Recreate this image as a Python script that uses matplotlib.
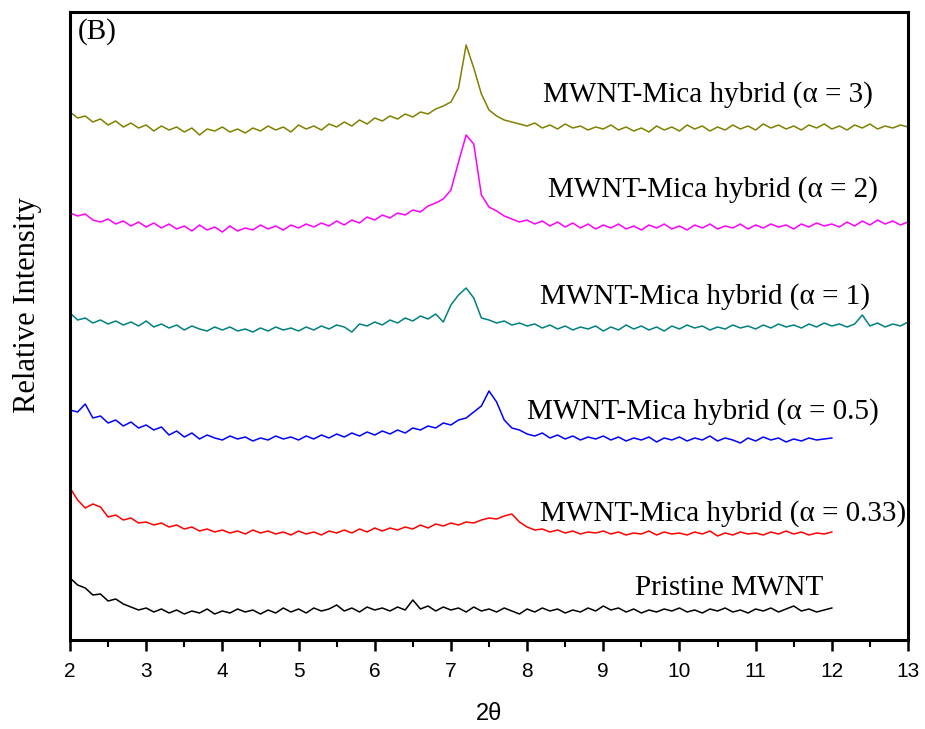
import numpy as np
import matplotlib
matplotlib.use("Agg")
import matplotlib.pyplot as plt
from matplotlib.ticker import MultipleLocator

# 2-theta grids
x_long = np.round(np.arange(2.0, 13.0001, 0.1), 2)   # 2..13
x_short = np.round(np.arange(2.0, 12.0001, 0.1), 2)  # 2..12

# Intensities (relative, stacked offsets as drawn)
alpha3 = [528, 522, 524, 518, 521, 515, 519, 513, 517, 512,
          515, 509, 514, 510, 513, 508, 512, 505, 511, 509,
          513, 508, 511, 507, 512, 509, 514, 510, 513, 508,
          515, 511, 514, 510, 516, 513, 518, 514, 520, 516,
          522, 519, 524, 521, 526, 523, 528, 526, 531, 534,
          538, 552, 595, 572, 546, 530, 524, 520, 518, 516,
          514, 517, 512, 515, 511, 516, 512, 514, 510, 513,
          511, 515, 510, 513, 509, 512, 508, 514, 510, 513,
          509, 515, 511, 514, 509, 513, 510, 515, 511, 514,
          510, 516, 512, 515, 511, 514, 510, 515, 512, 516,
          511, 514, 510, 515, 512, 516, 511, 514, 512, 515,
          513]
alpha2 = [427, 424, 426, 420, 418, 421, 416, 419, 414, 418,
          413, 417, 412, 416, 411, 414, 409, 415, 410, 413,
          408, 414, 409, 412, 410, 415, 411, 414, 410, 415,
          412, 416, 413, 417, 414, 419, 415, 420, 417, 423,
          420, 425, 422, 427, 425, 430, 428, 434, 437, 441,
          450, 478, 505, 496, 445, 433, 429, 424, 421, 418,
          420, 416, 419, 414, 418, 413, 417, 412, 416, 411,
          415, 412, 416, 411, 414, 410, 415, 412, 416, 411,
          414, 410, 415, 412, 416, 411, 414, 412, 416, 411,
          415, 412, 416, 413, 415, 411, 416, 413, 417, 414,
          416, 413, 418, 414, 419, 415, 420, 416, 419, 415,
          418]
alpha1 = [327, 320, 322, 317, 320, 316, 319, 315, 318, 314,
          319, 313, 316, 312, 315, 310, 314, 311, 309, 313,
          310, 313, 309, 311, 308, 312, 309, 313, 310, 312,
          309, 313, 310, 314, 311, 315, 313, 308, 316, 314,
          318, 315, 320, 317, 322, 319, 324, 321, 326, 318,
          335, 345, 352, 342, 322, 320, 317, 319, 315, 317,
          314, 316, 312, 315, 311, 314, 310, 313, 311, 314,
          309, 313, 310, 315, 311, 314, 310, 313, 309, 314,
          311, 315, 312, 314, 310, 313, 311, 315, 312, 314,
          311, 315, 312, 316, 313, 315, 312, 316, 313, 317,
          314, 316, 313, 316, 325, 314, 317, 313, 316, 314,
          318]
alpha05 = [230, 228, 236, 222, 224, 217, 220, 214, 218, 212,
           215, 210, 213, 205, 209, 203, 207, 201, 205, 202,
           200, 204, 201, 203, 199, 202, 200, 204, 201, 203,
           200, 204, 201, 205, 202, 206, 203, 207, 204, 208,
           205, 209, 206, 210, 207, 212, 210, 214, 212, 217,
           215, 220, 222, 228, 234, 249, 238, 220, 212, 210,
           206, 204, 207, 202, 205, 201, 204, 200, 203, 201,
           204, 200, 203, 199, 202, 200, 203, 198, 202, 200,
           203, 199, 202, 200, 204, 199, 202, 200, 197, 202,
           199, 203, 200, 202, 198, 201, 199, 202, 200, 201,
           202]
alpha033 = [152, 140, 132, 136, 133, 123, 125, 120, 122, 117,
            118, 115, 117, 113, 115, 111, 113, 109, 111, 108,
            110, 107, 109, 106, 110, 107, 109, 106, 108, 105,
            109, 106, 108, 105, 109, 107, 110, 107, 111, 108,
            112, 109, 112, 110, 113, 111, 115, 112, 116, 114,
            117, 115, 118, 117, 120, 122, 121, 124, 126, 118,
            113, 110, 111, 108, 110, 107, 109, 106, 108, 107,
            109, 106, 108, 105, 107, 106, 109, 105, 108, 106,
            107, 105, 108, 106, 109, 104, 107, 105, 108, 106,
            107, 105, 108, 106, 109, 106, 108, 105, 107, 106,
            108]
pristine = [62, 55, 52, 45, 46, 39, 41, 36, 33, 30,
            32, 28, 31, 27, 30, 26, 29, 27, 31, 26,
            29, 27, 31, 28, 30, 26, 30, 27, 32, 28,
            31, 27, 32, 29, 31, 35, 29, 32, 28, 33,
            30, 32, 29, 33, 30, 40, 31, 34, 29, 33,
            30, 32, 28, 33, 29, 31, 28, 32, 29, 26,
            31, 28, 32, 29, 31, 27, 30, 28, 32, 29,
            34, 30, 32, 28, 31, 27, 30, 28, 31, 29,
            32, 28, 30, 27, 31, 29, 32, 28, 30, 27,
            31, 29, 32, 28, 31, 34, 29, 31, 28, 30,
            32]

series = [
    (x_long, alpha3, "#808000"),
    (x_long, alpha2, "#ff00ff"),
    (x_long, alpha1, "#008080"),
    (x_short, alpha05, "#0000ff"),
    (x_short, alpha033, "#ff0000"),
    (x_short, pristine, "#000000"),
]

labels = ["MWNT-Mica hybrid (\u03b1 = 3)", "MWNT-Mica hybrid (\u03b1 = 2)",
          "MWNT-Mica hybrid (\u03b1 = 1)", "MWNT-Mica hybrid (\u03b1 = 0.5)",
          "MWNT-Mica hybrid (\u03b1 = 0.33)", "Pristine MWNT"]
label_x = [8.21, 8.27, 8.17, 8.0, 8.17, 9.41]
label_y = [545, 450, 343, 228, 126, 52]

serif = ["Liberation Serif", "DejaVu Serif"]
sans = ["Liberation Sans", "DejaVu Sans"]

fig = plt.figure(figsize=(9.25, 7.29), dpi=100)
ax = fig.add_axes([70/925, 89/729, 838/925, 628/729])

for xs, ys, c in series:
    ax.plot(xs, ys, color=c, lw=1.1)

for t, lx, ly in zip(labels, label_x, label_y):
    ax.text(lx, ly, t, ha="left", va="center", fontsize=21, family=serif)

ax.text(2.1, 608, "(B)", ha="left", va="center", fontsize=21, family=serif)

ax.set_xlim(2, 13)
ax.set_ylim(0, 628)
ax.xaxis.set_major_locator(MultipleLocator(1))
ax.xaxis.set_minor_locator(MultipleLocator(0.5))
ax.tick_params(axis="x", which="major", direction="out", length=8, width=1.8, pad=8)
ax.tick_params(axis="x", which="minor", direction="out", length=5, width=1.5)
ax.set_yticks([])
for lab in ax.get_xticklabels():
    lab.set_family(sans)
    lab.set_fontsize(15)
for sp in ax.spines.values():
    sp.set_linewidth(2.2)

ax.set_xlabel("2\u03b8", family=sans, fontsize=17, labelpad=16)
ax.set_ylabel("Relative Intensity", family=serif, fontsize=22)
ax.yaxis.set_label_coords(-0.033, 0.533)

fig.savefig("out.png", dpi=100)
